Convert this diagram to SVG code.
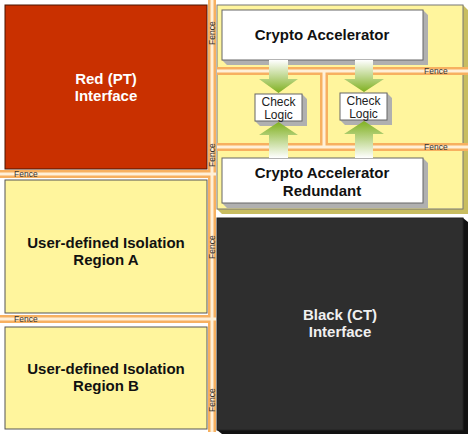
<svg xmlns="http://www.w3.org/2000/svg" width="474" height="438" viewBox="0 0 474 438">
<defs>
<linearGradient id="gDown" x1="0" y1="0" x2="0" y2="1">
<stop offset="0" stop-color="#ffffff"/>
<stop offset="1" stop-color="#7fb020"/>
</linearGradient>
<linearGradient id="gUp" x1="0" y1="1" x2="0" y2="0">
<stop offset="0" stop-color="#ffffff"/>
<stop offset="1" stop-color="#7fb020"/>
</linearGradient>
<style>
.fo{fill:#f7b060}
.fi{fill:#fff0d8}
.ft{font-family:"Liberation Sans",Arial,sans-serif;font-size:8.5px;fill:#333}
.big{font-family:"Liberation Sans",Arial,sans-serif;font-size:15px;font-weight:bold;text-anchor:middle}
.ca{font-family:"Liberation Sans",Arial,sans-serif;font-size:15px;font-weight:bold;text-anchor:middle;fill:#111}
.cl{font-family:"Liberation Sans",Arial,sans-serif;font-size:12px;text-anchor:middle;fill:#222}
.side{fill:#b0b0b0}
.wbox{fill:#ffffff;stroke:#666;stroke-width:1}
.yreg{fill:#fff59d;stroke:#555;stroke-width:1}
</style>
</defs>
<rect width="474" height="438" fill="#ffffff"/>

<g id="red-interface">
<rect x="5" y="5" width="202" height="164" fill="#c93000" stroke="#4a1500" stroke-width="1"/>
<text class="big" x="106" y="84" fill="#ffffff">Red (PT)</text>
<text class="big" x="106" y="101" fill="#ffffff">Interface</text>
</g>

<g id="region-a">
<rect x="5" y="180" width="202" height="133" class="yreg"/>
<text class="big" x="106" y="248" fill="#111">User-defined Isolation</text>
<text class="big" x="106" y="265" fill="#111">Region A</text>
</g>

<g id="region-b">
<rect x="5" y="327" width="202" height="102" class="yreg"/>
<text class="big" x="106" y="374" fill="#111">User-defined Isolation</text>
<text class="big" x="106" y="391" fill="#111">Region B</text>
</g>

<g id="crypto-panel">
<polygon points="463,5 468,10 468,214 222,214 217,209 463,209" fill="#c8bd60"/>
<rect x="217" y="5" width="246" height="204" fill="#fff59d" stroke="#777" stroke-width="1"/>
</g>

<g id="black-interface">
<polygon points="463,218 468,222 468,434 222,434 217,430 463,430" fill="#111"/>
<rect x="217" y="218" width="246" height="212" fill="#2e2e2e" stroke="#222" stroke-width="1"/>
<text class="big" x="340" y="320" fill="#f0f0f0">Black (CT)</text>
<text class="big" x="340" y="337" fill="#f0f0f0">Interface</text>
</g>

<g id="fences">
<rect x="208" y="0" width="8" height="432" class="fo"/>
<rect x="210.5" y="0" width="3" height="432" class="fi"/>
<rect x="0" y="170" width="208" height="8" class="fo"/>
<rect x="0" y="172.5" width="216" height="3" class="fi"/>
<rect x="0" y="315" width="208" height="8" class="fo"/>
<rect x="0" y="317.5" width="216" height="3" class="fi"/>
<rect x="217" y="67" width="251" height="8" class="fo"/>
<rect x="217" y="69.5" width="251" height="3" class="fi"/>
<rect x="217" y="143" width="251" height="8" class="fo"/>
<rect x="217" y="145.5" width="251" height="3" class="fi"/>
<rect x="320" y="75" width="8" height="68" class="fo"/>
<rect x="322.5" y="72" width="3" height="74" class="fi"/>
<text class="ft" x="14" y="177">Fence</text>
<text class="ft" x="14" y="322">Fence</text>
<text class="ft" x="424" y="74">Fence</text>
<text class="ft" x="424" y="150">Fence</text>
<text class="ft" transform="translate(215,45) rotate(-90)">Fence</text>
<text class="ft" transform="translate(215,167) rotate(-90)">Fence</text>
<text class="ft" transform="translate(215,259) rotate(-90)">Fence</text>
<text class="ft" transform="translate(215,412) rotate(-90)">Fence</text>
</g>

<g id="crypto-accelerator">
<polygon points="423,10 428,15 428,65 227,65 222,60 423,60" class="side"/>
<rect x="222" y="10" width="201" height="50" class="wbox"/>
<text class="ca" x="322" y="40">Crypto Accelerator</text>
</g>

<g id="crypto-accelerator-redundant">
<polygon points="423,158 428,163 428,208 227,208 222,203 423,203" class="side"/>
<rect x="222" y="158" width="201" height="45" class="wbox"/>
<text class="ca" x="322" y="178">Crypto Accelerator</text>
<text class="ca" x="322" y="196">Redundant</text>
</g>

<g id="check-logic-1">
<polygon points="302,94 307,99 307,126 260,126 255,121 302,121" class="side"/>
<rect x="255" y="94" width="47" height="27" class="wbox"/>
<text class="cl" x="278.5" y="106">Check</text>
<text class="cl" x="278.5" y="119">Logic</text>
</g>

<g id="check-logic-2">
<polygon points="387,93 392,98 392,125 345,125 340,120 387,120" class="side"/>
<rect x="340" y="93" width="47" height="27" class="wbox"/>
<text class="cl" x="363.5" y="105">Check</text>
<text class="cl" x="363.5" y="118">Logic</text>
</g>

<g id="connectors">
<polygon points="269,60 288,60 288,79 298,79 278.5,93 259,79 269,79" fill="url(#gDown)"/>
<polygon points="355,60 373,60 373,79 384,79 364,92 344,79 355,79" fill="url(#gDown)"/>
<polygon points="269,158 288,158 288,135 298,135 278.5,122 259,135 269,135" fill="url(#gUp)"/>
<polygon points="355,158 373,158 373,134 384,134 364,121 344,134 355,134" fill="url(#gUp)"/>
</g>
</svg>
